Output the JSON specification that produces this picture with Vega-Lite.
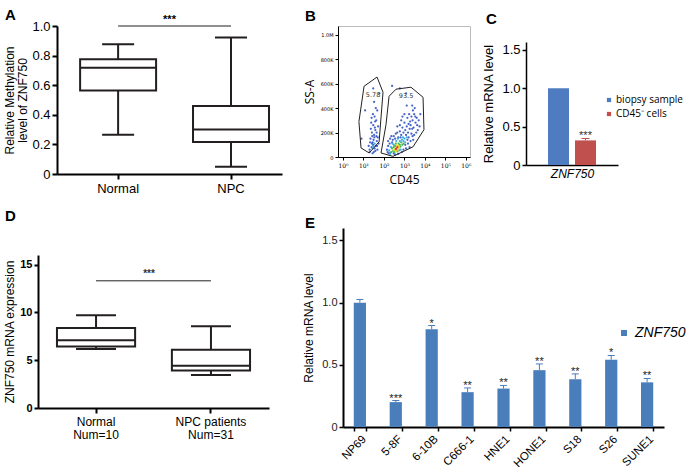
{
  "$schema": "https://vega.github.io/schema/vega-lite/v6.json",
  "background": "white",
  "padding": {"left": 3, "top": 8, "right": 0, "bottom": 0},
  "config": {
    "font": "Liberation Sans",
    "view": {"stroke": null},
    "axis": {"grid": false, "domainColor": "#000", "tickColor": "#000", "labelColor": "#000", "titleColor": "#000", "titleFontWeight": "normal", "labelFont": "Liberation Sans", "titleFont": "Liberation Sans", "labelOverlap": false},
    "title": {"anchor": "start", "frame": "group", "fontSize": 15, "fontWeight": "bold", "font": "Liberation Sans", "color": "#000"},
    "legend": {"labelColor": "#000"}
  },
  "columns": 1,
  "align": "none",
  "spacing": 14,
  "resolve": {"scale": {"color": "independent"}, "legend": {"color": "independent"}},
  "concat": [
    {
      "bounds": "flush",
      "spacing": 56,
      "resolve": {"scale": {"color": "independent"}, "legend": {"color": "independent"}},
      "hconcat": [
        {
          "width": 225, "height": 148,
          "title": {"text": "A", "dx": -52, "offset": -9},
          "encoding": {
            "y": {"field": "min", "type": "quantitative", "scale": {"domain": [0, 1]}, "axis": {"values": [0, 0.2, 0.4, 0.6, 0.8, 1], "labelOverlap": false, "labelSeparation": -30, "labelExpr": "datum.value == 0 ? '0' : format(datum.value, '.1f')", "title": ["Relative Methylation", "level of ZNF750"], "titleFontSize": 12, "titleLineHeight": 13, "labelFontSize": 13, "tickWidth": 2, "tickSize": 5, "domainWidth": 2, "labelPadding": 2, "titlePadding": 2}}
          },
          "layer": [
            {
              "data": {"values": [
                {"group": "Normal", "min": 0.266, "q1": 0.564, "median": 0.718, "q3": 0.776, "max": 0.877},
                {"group": "NPC", "min": 0.049, "q1": 0.217, "median": 0.30, "q3": 0.459, "max": 0.922}
              ]},
              "encoding": {
                "x": {"field": "group", "type": "nominal", "scale": {"domain": ["Normal", "NPC"], "paddingInner": 0.327, "paddingOuter": 0.16, "align": 0.64}, "axis": {"title": null, "labelAngle": 0, "labelFontSize": 13, "tickWidth": 2, "tickSize": 5, "domainWidth": 2, "labelPadding": 3}}
              },
              "layer": [
                {"mark": {"type": "rule", "strokeWidth": 2, "color": "#231f20"}, "encoding": {"y2": {"field": "max"}}},
                {"mark": {"type": "bar", "fill": "white", "stroke": "#231f20", "strokeWidth": 2}, "encoding": {"y": {"field": "q1", "type": "quantitative"}, "y2": {"field": "q3"}}},
                {"mark": {"type": "tick", "size": 76, "thickness": 2, "color": "#231f20", "opacity": 1}, "encoding": {"y": {"field": "median", "type": "quantitative"}}},
                {"mark": {"type": "tick", "size": 32, "thickness": 2, "color": "#231f20", "opacity": 1}, "encoding": {"y": {"field": "min", "type": "quantitative"}}},
                {"mark": {"type": "tick", "size": 32, "thickness": 2, "color": "#231f20", "opacity": 1}, "encoding": {"y": {"field": "max", "type": "quantitative"}}}
              ]
            },
            {
              "data": {"values": [{"from": "Normal", "to": "NPC", "min": 1.0, "label": "***"}]},
              "layer": [
                {"mark": {"type": "rule", "strokeWidth": 1, "color": "#231f20"}, "encoding": {"x": {"field": "from", "type": "nominal"}, "x2": {"field": "to"}}},
                {"mark": {"type": "text", "fontSize": 11, "fontWeight": "bold", "dy": -6}, "encoding": {"text": {"field": "label"}}}
              ]
            }
          ]
        },
        {
          "width": 132, "height": 131,
          "title": {"text": "B", "dx": -33, "offset": 2},
          "view": {"stroke": "#bbbbbb", "strokeWidth": 1},
          "encoding": {
            "x": {"field": "cd45", "type": "quantitative", "scale": {"type": "log", "domain": [0.57, 1600000]}, "axis": {"values": [1, 10, 100, 1000, 10000, 100000, 1000000], "labelExpr": "'10' + ['⁰','¹','²','³','⁴','⁵','⁶'][round(log(datum.value)/LN10)]", "labelFont": "DejaVu Serif", "labelFontSize": 6, "tickSize": 3, "domainWidth": 1, "labelPadding": 2, "title": "CD45", "titleFont": "Open Sans", "titleFontSize": 12, "titlePadding": 6}},
            "y": {"field": "ssa", "type": "quantitative", "scale": {"domain": [0, 1070000]}, "axis": {"values": [0, 200000, 400000, 600000, 800000, 1000000], "labelExpr": "datum.value == 0 ? '0' : datum.value >= 1000000 ? '1.0M' : (datum.value/1000) + 'K'", "labelFont": "DejaVu Sans", "labelFontSize": 5, "tickSize": 3, "labelPadding": 2, "title": "SS-A", "titleFont": "Open Sans", "titleFontSize": 12, "titlePadding": 4}}
          },
          "layer": [
            {
              "data": {"values": [
                {"cd45": 150, "ssa": 40000, "d": 0}, {"cd45": 160, "ssa": 90000, "d": 0}, {"cd45": 170, "ssa": 30000, "d": 0}, {"cd45": 1200, "ssa": 180000, "d": 0},
                {"cd45": 1500, "ssa": 200000, "d": 0}, {"cd45": 1800, "ssa": 230000, "d": 0}, {"cd45": 2000, "ssa": 260000, "d": 0}, {"cd45": 2500, "ssa": 300000, "d": 0},
                {"cd45": 3000, "ssa": 350000, "d": 0}, {"cd45": 1300, "ssa": 250000, "d": 0}, {"cd45": 900, "ssa": 200000, "d": 0}, {"cd45": 700, "ssa": 180000, "d": 0},
                {"cd45": 500, "ssa": 160000, "d": 0}, {"cd45": 350, "ssa": 150000, "d": 0}, {"cd45": 250, "ssa": 120000, "d": 0}, {"cd45": 190, "ssa": 110000, "d": 0},
                {"cd45": 140, "ssa": 60000, "d": 0}, {"cd45": 1600, "ssa": 160000, "d": 0}, {"cd45": 2200, "ssa": 190000, "d": 0}, {"cd45": 2800, "ssa": 240000, "d": 0},
                {"cd45": 3500, "ssa": 280000, "d": 0}, {"cd45": 4000, "ssa": 320000, "d": 0}, {"cd45": 1000, "ssa": 280000, "d": 0}, {"cd45": 800, "ssa": 240000, "d": 0},
                {"cd45": 600, "ssa": 210000, "d": 0}, {"cd45": 450, "ssa": 200000, "d": 0}, {"cd45": 3200, "ssa": 400000, "d": 0}, {"cd45": 2600, "ssa": 380000, "d": 0},
                {"cd45": 1400, "ssa": 320000, "d": 0}, {"cd45": 1100, "ssa": 100000, "d": 0}, {"cd45": 1400, "ssa": 140000, "d": 0}, {"cd45": 5000, "ssa": 300000, "d": 0},
                {"cd45": 4500, "ssa": 220000, "d": 0}, {"cd45": 2000, "ssa": 130000, "d": 0}, {"cd45": 1200, "ssa": 70000, "d": 0}, {"cd45": 900, "ssa": 60000, "d": 0},
                {"cd45": 750, "ssa": 40000, "d": 0}, {"cd45": 300, "ssa": 170000, "d": 0}, {"cd45": 200, "ssa": 150000, "d": 0}, {"cd45": 160, "ssa": 130000, "d": 0},
                {"cd45": 1700, "ssa": 350000, "d": 0}, {"cd45": 2400, "ssa": 420000, "d": 0}, {"cd45": 600, "ssa": 260000, "d": 0}, {"cd45": 450, "ssa": 250000, "d": 0},
                {"cd45": 1500, "ssa": 110000, "d": 0}, {"cd45": 2500, "ssa": 170000, "d": 0}, {"cd45": 3800, "ssa": 200000, "d": 0}, {"cd45": 6000, "ssa": 350000, "d": 0},
                {"cd45": 300, "ssa": 30000, "d": 0}, {"cd45": 350, "ssa": 20000, "d": 0}, {"cd45": 500, "ssa": 25000, "d": 0}, {"cd45": 1800, "ssa": 80000, "d": 0},
                {"cd45": 700, "ssa": 300000, "d": 0}, {"cd45": 1000, "ssa": 350000, "d": 0}, {"cd45": 2200, "ssa": 330000, "d": 0}, {"cd45": 3000, "ssa": 180000, "d": 0},
                {"cd45": 1300, "ssa": 420000, "d": 0}, {"cd45": 800, "ssa": 330000, "d": 0}, {"cd45": 4200, "ssa": 260000, "d": 0}, {"cd45": 2700, "ssa": 140000, "d": 0},
                {"cd45": 1900, "ssa": 290000, "d": 0}, {"cd45": 650, "ssa": 160000, "d": 0}, {"cd45": 1100, "ssa": 220000, "d": 0}, {"cd45": 1600, "ssa": 270000, "d": 0},
                {"cd45": 2400, "ssa": 230000, "d": 0}, {"cd45": 380, "ssa": 190000, "d": 0}, {"cd45": 270, "ssa": 140000, "d": 0}, {"cd45": 230, "ssa": 170000, "d": 0},
                {"cd45": 5500, "ssa": 250000, "d": 0}, {"cd45": 3400, "ssa": 330000, "d": 0},
                {"cd45": 20, "ssa": 60000, "d": 0}, {"cd45": 25, "ssa": 80000, "d": 0}, {"cd45": 30, "ssa": 100000, "d": 0}, {"cd45": 35, "ssa": 70000, "d": 0},
                {"cd45": 28, "ssa": 120000, "d": 0}, {"cd45": 22, "ssa": 150000, "d": 0}, {"cd45": 40, "ssa": 90000, "d": 0}, {"cd45": 45, "ssa": 130000, "d": 0},
                {"cd45": 33, "ssa": 180000, "d": 0}, {"cd45": 26, "ssa": 200000, "d": 0}, {"cd45": 38, "ssa": 220000, "d": 0}, {"cd45": 30, "ssa": 260000, "d": 0},
                {"cd45": 42, "ssa": 300000, "d": 0}, {"cd45": 35, "ssa": 330000, "d": 0}, {"cd45": 24, "ssa": 280000, "d": 0}, {"cd45": 50, "ssa": 160000, "d": 0},
                {"cd45": 55, "ssa": 110000, "d": 0}, {"cd45": 18, "ssa": 90000, "d": 0}, {"cd45": 20, "ssa": 40000, "d": 0}, {"cd45": 48, "ssa": 60000, "d": 0},
                {"cd45": 32, "ssa": 40000, "d": 0}, {"cd45": 27, "ssa": 170000, "d": 0}, {"cd45": 36, "ssa": 240000, "d": 0}, {"cd45": 44, "ssa": 200000, "d": 0},
                {"cd45": 29, "ssa": 350000, "d": 0}, {"cd45": 40, "ssa": 400000, "d": 0}, {"cd45": 23, "ssa": 230000, "d": 0}, {"cd45": 52, "ssa": 250000, "d": 0},
                {"cd45": 31, "ssa": 140000, "d": 0}, {"cd45": 26, "ssa": 110000, "d": 0}, {"cd45": 38, "ssa": 50000, "d": 0}, {"cd45": 46, "ssa": 90000, "d": 0},
                {"cd45": 34, "ssa": 160000, "d": 0}, {"cd45": 21, "ssa": 120000, "d": 0}, {"cd45": 43, "ssa": 170000, "d": 0}, {"cd45": 37, "ssa": 290000, "d": 0},
                {"cd45": 25, "ssa": 320000, "d": 0}, {"cd45": 33, "ssa": 450000, "d": 0}, {"cd45": 47, "ssa": 380000, "d": 0}, {"cd45": 28, "ssa": 30000, "d": 0},
                {"cd45": 8, "ssa": 150000, "d": 0}, {"cd45": 60, "ssa": 520000, "d": 0}, {"cd45": 250, "ssa": 580000, "d": 0}, {"cd45": 600, "ssa": 560000, "d": 0},
                {"cd45": 12, "ssa": 380000, "d": 0}, {"cd45": 1200, "ssa": 520000, "d": 0}, {"cd45": 30, "ssa": 560000, "d": 0},
                {"cd45": 200, "ssa": 35000, "d": 1}, {"cd45": 180, "ssa": 55000, "d": 1}, {"cd45": 900, "ssa": 130000, "d": 1}, {"cd45": 1000, "ssa": 150000, "d": 1},
                {"cd45": 750, "ssa": 140000, "d": 1}, {"cd45": 600, "ssa": 130000, "d": 1}, {"cd45": 400, "ssa": 130000, "d": 1}, {"cd45": 300, "ssa": 100000, "d": 1},
                {"cd45": 220, "ssa": 80000, "d": 1}, {"cd45": 550, "ssa": 55000, "d": 1}, {"cd45": 1100, "ssa": 120000, "d": 1}, {"cd45": 850, "ssa": 160000, "d": 1},
                {"cd45": 200, "ssa": 25000, "d": 1}, {"cd45": 650, "ssa": 60000, "d": 1}, {"cd45": 30, "ssa": 90000, "d": 1}, {"cd45": 35, "ssa": 110000, "d": 1},
                {"cd45": 28, "ssa": 70000, "d": 1}, {"cd45": 1300, "ssa": 160000, "d": 1}, {"cd45": 480, "ssa": 150000, "d": 1}, {"cd45": 260, "ssa": 110000, "d": 1},
                {"cd45": 280, "ssa": 50000, "d": 2}, {"cd45": 250, "ssa": 70000, "d": 2}, {"cd45": 600, "ssa": 100000, "d": 2}, {"cd45": 650, "ssa": 85000, "d": 2},
                {"cd45": 520, "ssa": 110000, "d": 2}, {"cd45": 350, "ssa": 90000, "d": 2}, {"cd45": 300, "ssa": 80000, "d": 2}, {"cd45": 700, "ssa": 120000, "d": 2},
                {"cd45": 230, "ssa": 40000, "d": 2}, {"cd45": 450, "ssa": 45000, "d": 2}, {"cd45": 380, "ssa": 110000, "d": 2}, {"cd45": 800, "ssa": 100000, "d": 2},
                {"cd45": 330, "ssa": 40000, "d": 2}, {"cd45": 900, "ssa": 110000, "d": 2},
                {"cd45": 350, "ssa": 60000, "d": 3}, {"cd45": 500, "ssa": 90000, "d": 3}, {"cd45": 420, "ssa": 95000, "d": 3}, {"cd45": 300, "ssa": 55000, "d": 3},
                {"cd45": 550, "ssa": 75000, "d": 3}, {"cd45": 470, "ssa": 60000, "d": 3}, {"cd45": 400, "ssa": 50000, "d": 3},
                {"cd45": 400, "ssa": 70000, "d": 4}, {"cd45": 450, "ssa": 80000, "d": 4}, {"cd45": 380, "ssa": 65000, "d": 4}
              ]},
              "mark": {"type": "circle", "size": 5, "opacity": 0.95},
              "encoding": {"color": {"field": "d", "type": "ordinal", "scale": {"domain": [0, 1, 2, 3, 4], "range": ["#3c5cc4", "#33a9e0", "#3cb64a", "#e8d51c", "#e33b2b"]}, "legend": null}}
            },
            {
              "data": {"values": [
                {"gate": "left", "i": 0, "cd45": 10.7, "ssa": 578000}, {"gate": "left", "i": 1, "cd45": 46, "ssa": 653000}, {"gate": "left", "i": 2, "cd45": 90, "ssa": 529000},
                {"gate": "left", "i": 3, "cd45": 58, "ssa": 124000}, {"gate": "left", "i": 4, "cd45": 19, "ssa": 33000}, {"gate": "left", "i": 5, "cd45": 7.6, "ssa": 74000},
                {"gate": "left", "i": 6, "cd45": 6, "ssa": 289000}, {"gate": "left", "i": 7, "cd45": 10.7, "ssa": 578000},
                {"gate": "right", "i": 0, "cd45": 178, "ssa": 496000}, {"gate": "right", "i": 1, "cd45": 389, "ssa": 554000}, {"gate": "right", "i": 2, "cd45": 2090, "ssa": 570000},
                {"gate": "right", "i": 3, "cd45": 8130, "ssa": 488000}, {"gate": "right", "i": 4, "cd45": 9020, "ssa": 223000}, {"gate": "right", "i": 5, "cd45": 2630, "ssa": 83000},
                {"gate": "right", "i": 6, "cd45": 275, "ssa": 5000}, {"gate": "right", "i": 7, "cd45": 72, "ssa": 33000}, {"gate": "right", "i": 8, "cd45": 126, "ssa": 264000},
                {"gate": "right", "i": 9, "cd45": 178, "ssa": 496000}
              ]},
              "mark": {"type": "line", "color": "#222", "strokeWidth": 1},
              "encoding": {"detail": {"field": "gate", "type": "nominal"}, "order": {"field": "i", "type": "quantitative"}}
            },
            {
              "data": {"values": [{"cd45": 29.5, "ssa": 504000, "label": "5.78"}, {"cd45": 1200, "ssa": 496000, "label": "93.5"}]},
              "mark": {"type": "text", "fontSize": 6.5, "font": "DejaVu Sans", "color": "#333"},
              "encoding": {"text": {"field": "label"}}
            }
          ]
        },
        {
          "width": 92, "height": 139,
          "title": {"text": "C", "dx": -40, "offset": -1},
          "data": {"values": [
            {"sample": "biopsy sample", "level": 1.0, "upper": null, "sig": ""},
            {"sample": "CD45⁻ cells", "level": 0.32, "upper": 0.345, "sig": "***"}
          ]},
          "encoding": {"x": {"field": "sample", "type": "nominal", "sort": null, "scale": {"paddingInner": 0.222, "paddingOuter": 0.815}, "axis": {"title": "ZNF750", "titleFontStyle": "italic", "titleFontSize": 12, "labels": false, "ticks": false, "domainWidth": 1.5, "titlePadding": 3}}},
          "layer": [
            {"mark": {"type": "bar"}, "encoding": {
              "y": {"field": "level", "type": "quantitative", "scale": {"domain": [0, 1.5], "range": [139, 16]}, "axis": {"values": [0, 0.5, 1, 1.5], "labelExpr": "datum.value == 0 ? '0' : format(datum.value, '.1f')", "title": "Relative mRNA level", "titleFontSize": 13, "labelFontSize": 13, "tickSize": 4, "domainWidth": 1.5, "tickWidth": 1.5, "titlePadding": 6}},
              "color": {"field": "sample", "type": "nominal", "sort": null, "scale": {"domain": ["biopsy sample", "CD45⁻ cells"], "range": ["#4f7cc0", "#c0504d"]}, "legend": {"orient": "none", "legendX": 78, "legendY": 69, "title": null, "symbolType": "square", "symbolSize": 18, "labelFontSize": 10, "labelFont": "Open Sans", "rowPadding": 4, "labelOffset": 2}}
            }},
            {"mark": {"type": "rule", "color": "#c0504d"}, "encoding": {"y": {"field": "level", "type": "quantitative"}, "y2": {"field": "upper"}}},
            {"mark": {"type": "tick", "size": 8, "thickness": 1, "color": "#c0504d", "opacity": 1}, "encoding": {"y": {"field": "upper", "type": "quantitative"}}},
            {"mark": {"type": "text", "fontSize": 11, "baseline": "bottom", "dy": 3, "color": "#333"}, "encoding": {"y": {"field": "upper", "type": "quantitative"}, "text": {"field": "sig"}}}
          ]
        }
      ]
    },
    {
      "bounds": "flush",
      "spacing": 74,
      "resolve": {"scale": {"color": "independent"}, "legend": {"color": "independent"}},
      "hconcat": [
        {
          "width": 212, "height": 180,
          "title": {"text": "D", "dx": -52, "offset": 4},
          "layer": [
            {
              "data": {"values": [
                {"group": "Normal", "min": 6.16, "q1": 6.43, "median": 7.08, "q3": 8.36, "max": 9.7},
                {"group": "NPC patients", "min": 3.44, "q1": 3.93, "median": 4.43, "q3": 6.1, "max": 8.56}
              ]},
              "encoding": {
                "x": {"field": "group", "type": "nominal", "scale": {"domain": ["Normal", "NPC patients"], "range": [-19, 212], "paddingInner": 0.32, "paddingOuter": 0.165}, "axis": {"title": null, "labelAngle": 0, "labelFontSize": 12, "labelLineHeight": 13, "labelExpr": "datum.value == 'Normal' ? ['Normal', 'Num=10'] : ['NPC patients', 'Num=31']", "tickWidth": 2, "tickSize": 5, "domainWidth": 2, "labelPadding": 3}}
              },
              "layer": [
                {"mark": {"type": "rule", "strokeWidth": 2, "color": "#231f20"}, "encoding": {"y": {"field": "min", "type": "quantitative", "scale": {"domain": [0, 15], "range": [180, 27]}, "axis": {"values": [0, 5, 10, 15], "offset": 19, "title": "ZNF750 mRNA expression", "titleFontSize": 12, "labelFontSize": 11, "labelFontWeight": "bold", "tickWidth": 2, "tickSize": 4, "domainWidth": 2, "labelPadding": 2, "titlePadding": 3}}, "y2": {"field": "max"}}},
                {"mark": {"type": "bar", "fill": "white", "stroke": "#231f20", "strokeWidth": 2}, "encoding": {"y": {"field": "q1", "type": "quantitative"}, "y2": {"field": "q3"}}},
                {"mark": {"type": "tick", "size": 78, "thickness": 2, "color": "#231f20", "opacity": 1}, "encoding": {"y": {"field": "median", "type": "quantitative"}}},
                {"mark": {"type": "tick", "size": 40, "thickness": 2, "color": "#231f20", "opacity": 1}, "encoding": {"y": {"field": "min", "type": "quantitative"}}},
                {"mark": {"type": "tick", "size": 40, "thickness": 2, "color": "#231f20", "opacity": 1}, "encoding": {"y": {"field": "max", "type": "quantitative"}}}
              ]
            },
            {
              "data": {"values": [{"from": "Normal", "to": "NPC patients", "level": 13.3, "label": "***"}]},
              "layer": [
                {"mark": {"type": "rule", "strokeWidth": 1, "color": "#231f20"}, "encoding": {"x": {"field": "from", "type": "nominal"}, "x2": {"field": "to"}, "y": {"field": "level", "type": "quantitative"}}},
                {"mark": {"type": "text", "fontSize": 10, "fontWeight": "bold", "dy": -7, "dx": -14, "color": "#333"}, "encoding": {"text": {"field": "label"}, "y": {"field": "level", "type": "quantitative"}}}
              ]
            }
          ]
        },
        {
          "width": 321, "height": 199,
          "title": {"text": "E", "dx": -38, "offset": -3},
          "data": {"values": [
            {"line": "NP69", "level": 1.0, "upper": 1.025, "sig": ""},
            {"line": "5-8F", "level": 0.20, "upper": 0.213, "sig": "***"},
            {"line": "6-10B", "level": 0.786, "upper": 0.816, "sig": "*"},
            {"line": "C666-1", "level": 0.28, "upper": 0.314, "sig": "**"},
            {"line": "HNE1", "level": 0.309, "upper": 0.334, "sig": "**"},
            {"line": "HONE1", "level": 0.457, "upper": 0.507, "sig": "**"},
            {"line": "S18", "level": 0.384, "upper": 0.427, "sig": "**"},
            {"line": "S26", "level": 0.54, "upper": 0.575, "sig": "*"},
            {"line": "SUNE1", "level": 0.359, "upper": 0.39, "sig": "**"}
          ]},
          "encoding": {"x": {"field": "line", "type": "nominal", "sort": null, "scale": {"paddingInner": 0.66, "paddingOuter": 0.3}, "axis": {"title": null, "labelAngle": -45, "labelFontSize": 11.5, "tickBand": "extent", "tickSize": 4, "domainWidth": 2, "tickWidth": 1.5, "labelPadding": 2}}},
          "layer": [
            {"mark": {"type": "bar"}, "encoding": {
              "y": {"field": "level", "type": "quantitative", "scale": {"domain": [0, 1.5]}, "axis": {"values": [0, 0.5, 1, 1.5], "labelExpr": "datum.value == 0 ? '0' : format(datum.value, '.1f')", "title": "Relative mRNA level", "titleFontSize": 12, "labelFontSize": 11, "labelColor": "#222", "tickSize": 4, "domainWidth": 2, "tickWidth": 1.5, "titlePadding": 6}},
              "color": {"datum": "ZNF750", "type": "nominal", "scale": {"domain": ["ZNF750"], "range": ["#4a7ebb"]}, "legend": {"orient": "none", "legendX": 274, "legendY": 98, "title": null, "symbolType": "square", "symbolSize": 36, "labelFontSize": 14, "labelFontStyle": "italic", "labelOffset": 4}}
            }},
            {"mark": {"type": "rule", "color": "#4a7ebb"}, "encoding": {"y": {"field": "level", "type": "quantitative"}, "y2": {"field": "upper"}}},
            {"mark": {"type": "tick", "size": 7, "thickness": 1, "color": "#4a7ebb", "opacity": 1}, "encoding": {"y": {"field": "upper", "type": "quantitative"}}},
            {"mark": {"type": "text", "fontSize": 11, "baseline": "bottom", "dy": 3, "color": "#222"}, "encoding": {"y": {"field": "upper", "type": "quantitative"}, "text": {"field": "sig"}}}
          ]
        }
      ]
    }
  ]
}
